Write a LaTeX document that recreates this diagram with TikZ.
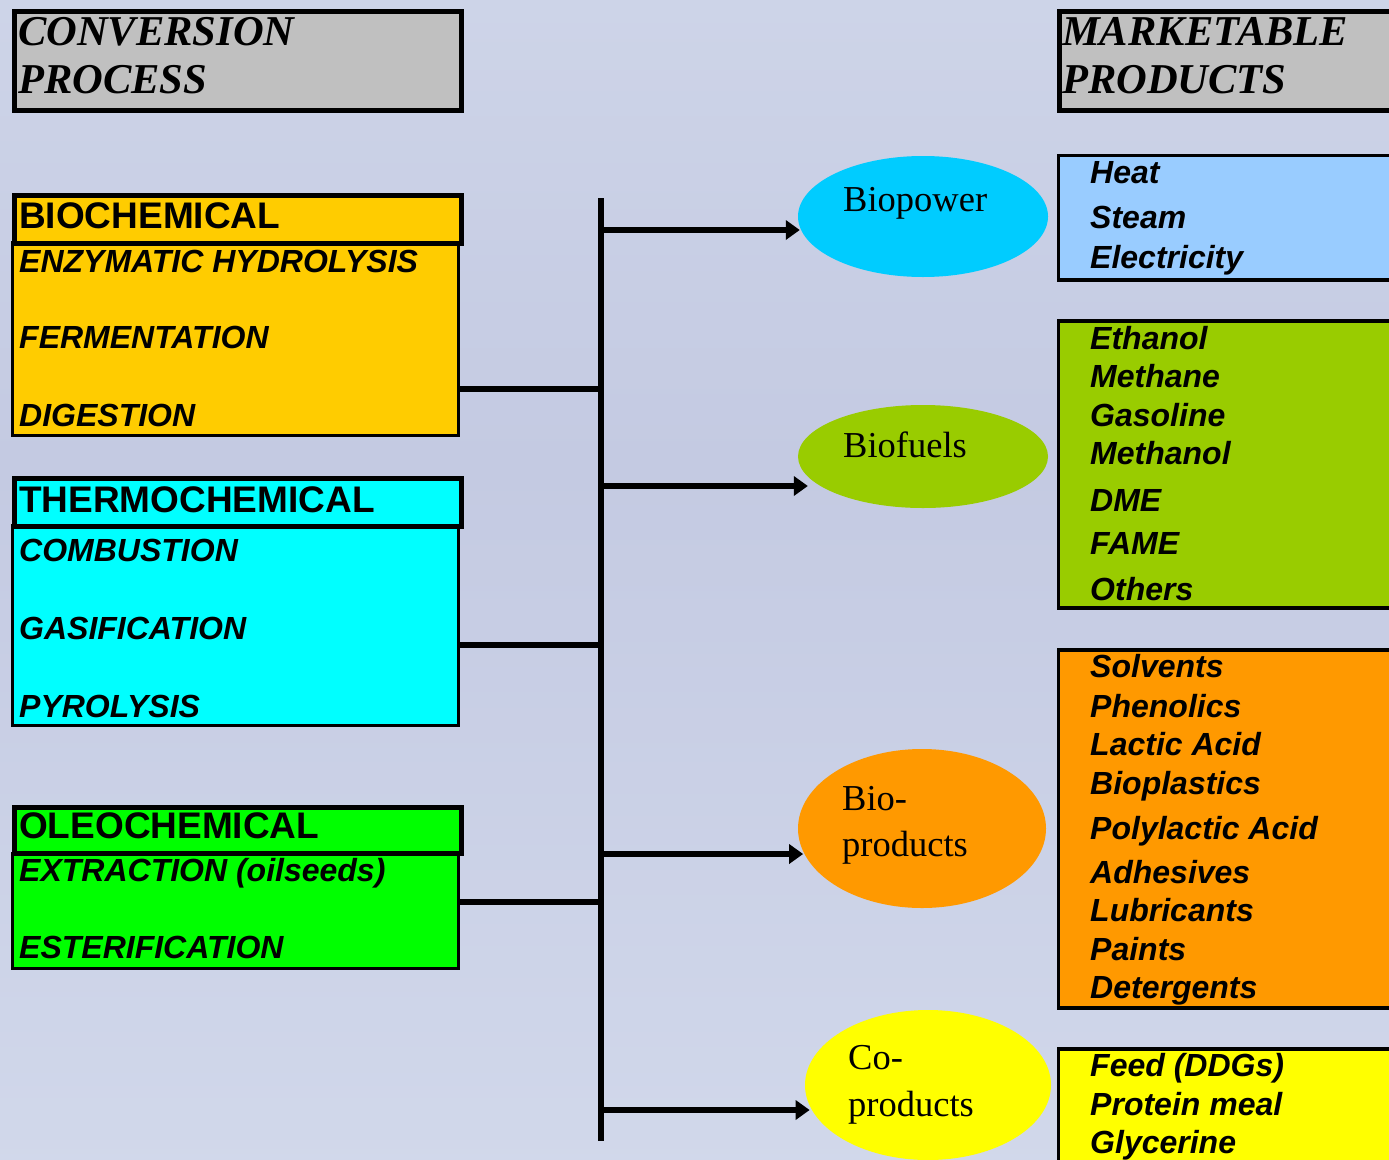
\documentclass[tikz,border=0pt]{standalone}
\usepackage{fontspec}
\setmainfont{Liberation Serif}
\setsansfont{Liberation Sans}
\usetikzlibrary{arrows.meta,shapes.geometric}
\definecolor{hdrgrey}{HTML}{C0C0C0}
\definecolor{bioyel}{HTML}{FFCC00}
\definecolor{thermcy}{HTML}{00FFFF}
\definecolor{oleogr}{HTML}{00FF00}
\definecolor{powblue}{HTML}{00CCFF}
\definecolor{fuelgr}{HTML}{99CC00}
\definecolor{prodor}{HTML}{FF9900}
\definecolor{coyel}{HTML}{FFFF00}
\definecolor{heatbl}{HTML}{99CCFF}
\definecolor{bgA}{HTML}{E9EEF6}
\definecolor{bgB}{HTML}{D3DAEC}
\definecolor{bgC}{HTML}{C4CAE2}
\definecolor{bgD}{HTML}{D2D9EB}
\definecolor{bgE}{HTML}{EEF1F6}
\pgfdeclareverticalshading{bgshade}{100bp}{color(0bp)=(bgA); color(20bp)=(bgB); color(55bp)=(bgC); color(85bp)=(bgD); color(100bp)=(bgE)}
\tikzset{
  hdrbox/.style={draw, line width=5pt, rectangle, inner sep=0pt, anchor=north west},
  bodybox/.style={draw, line width=3pt, rectangle, inner sep=0pt, anchor=north west},
  prodbox/.style={draw, line width=3.5pt, rectangle, inner sep=0pt, anchor=north west},
  blob/.style={ellipse, inner sep=0pt},
  hdrtxt/.style={anchor=base west, inner sep=0pt, font=\fontsize{42.5}{44}\selectfont\bfseries\itshape},
  cattxt/.style={anchor=base west, inner sep=0pt, font=\sffamily\bfseries\fontsize{37}{39}\selectfont},
  itemtxt/.style={anchor=base west, inner sep=0pt, font=\sffamily\bfseries\itshape\fontsize{32}{34}\selectfont},
  elltxt/.style={anchor=base west, inner sep=0pt, font=\fontsize{36.5}{40}\selectfont},
  conn/.style={line width=5.5pt},
  arr/.style={conn, -{Triangle[length=14pt,width=19pt]}}
}
\begin{document}
\begin{tikzpicture}[x=1pt,y=-1pt]
\useasboundingbox (0,0) rectangle (1389,1159);
\clip (0,0) rectangle (1389,1159);
\shade[shading=bgshade] (0,0) rectangle (1389,1159);

% headers
\node[hdrbox, fill=hdrgrey, minimum width=447pt, minimum height=99pt] (cp) at (11.5,8.5) {};
\node[hdrtxt] (cp1) at (18,45) {CONVERSION};
\node[hdrtxt] (cp2) at (18,93) {PROCESS};
\node[hdrbox, fill=hdrgrey, minimum width=360pt, minimum height=99pt] (mp) at (1056.5,8.5) {};
\node[hdrtxt] (mp1) at (1062,45) {MARKETABLE};
\node[hdrtxt] (mp2) at (1062,93) {PRODUCTS};

% left process boxes
\node[bodybox, fill=bioyel, minimum width=446pt, minimum height=192.5pt] (bb) at (11,241) {};
\node[hdrbox, fill=bioyel, minimum width=447pt, minimum height=48pt] (bh) at (11.5,192.5) {};
\node[cattxt] (bht) at (19,228) {BIOCHEMICAL};
\node[itemtxt] (b1) at (19,272) {ENZYMATIC HYDROLYSIS};
\node[itemtxt] (b2) at (19,348) {FERMENTATION};
\node[itemtxt] (b3) at (19,426) {DIGESTION};

\node[bodybox, fill=thermcy, minimum width=446pt, minimum height=199.5pt] (tb) at (11,524) {};
\node[hdrbox, fill=thermcy, minimum width=447pt, minimum height=48pt] (th) at (11.5,475.5) {};
\node[cattxt] (tht) at (19,512) {THERMOCHEMICAL};
\node[itemtxt] (t1) at (19,561) {COMBUSTION};
\node[itemtxt] (t2) at (19,639) {GASIFICATION};
\node[itemtxt] (t3) at (19,717) {PYROLYSIS};

\node[bodybox, fill=oleogr, minimum width=446pt, minimum height=115pt] (ob) at (11,852) {};
\node[hdrbox, fill=oleogr, minimum width=447pt, minimum height=46pt] (oh) at (11.5,804.5) {};
\node[cattxt] (oht) at (19,838) {OLEOCHEMICAL};
\node[itemtxt] (o1) at (19,881) {EXTRACTION (oilseeds)};
\node[itemtxt] (o2) at (19,958) {ESTERIFICATION};

% ellipses
\node[blob, fill=powblue, minimum width=250pt, minimum height=121pt] (pw) at (923,216.5) {};
\node[elltxt] (pwt) at (843,211) {Biopower};
\node[blob, fill=fuelgr, minimum width=250pt, minimum height=103pt] (fu) at (923,456.5) {};
\node[elltxt] (fut) at (843,457) {Biofuels};
\node[blob, fill=prodor, minimum width=248pt, minimum height=159pt] (pr) at (922,828.5) {};
\node[elltxt] (pr1) at (842,810) {Bio-};
\node[elltxt] (pr2) at (842,856) {products};
\node[blob, fill=coyel, minimum width=246pt, minimum height=150pt] (co) at (928,1085) {};
\node[elltxt] (co1) at (848,1069) {Co-};
\node[elltxt] (co2) at (848,1116) {products};

% product boxes
\node[prodbox, fill=heatbl, minimum width=360pt, minimum height=124.5pt] (hb) at (1056.75,153.75) {};
\node[itemtxt] (h1) at (1090,183) {Heat};
\node[itemtxt] (h2) at (1090,228) {Steam};
\node[itemtxt] (h3) at (1090,268) {Electricity};

\node[prodbox, fill=fuelgr, minimum width=360pt, minimum height=287pt] (fb) at (1056.75,319) {};
\node[itemtxt] (f1) at (1090,349) {Ethanol};
\node[itemtxt] (f2) at (1090,387) {Methane};
\node[itemtxt] (f3) at (1090,426) {Gasoline};
\node[itemtxt] (f4) at (1090,464) {Methanol};
\node[itemtxt] (f5) at (1090,511) {DME};
\node[itemtxt] (f6) at (1090,554) {FAME};
\node[itemtxt] (f7) at (1090,600) {Others};

\node[prodbox, fill=prodor, minimum width=360pt, minimum height=358pt] (pb) at (1056.75,648) {};
\node[itemtxt] (p1) at (1090,677) {Solvents};
\node[itemtxt] (p2) at (1090,717) {Phenolics};
\node[itemtxt] (p3) at (1090,755) {Lactic Acid};
\node[itemtxt] (p4) at (1090,794) {Bioplastics};
\node[itemtxt] (p5) at (1090,839) {Polylactic Acid};
\node[itemtxt] (p6) at (1090,883) {Adhesives};
\node[itemtxt] (p7) at (1090,921) {Lubricants};
\node[itemtxt] (p8) at (1090,960) {Paints};
\node[itemtxt] (p9) at (1090,998) {Detergents};

\node[prodbox, fill=coyel, minimum width=360pt, minimum height=160pt] (cb) at (1056.75,1047) {};
\node[itemtxt] (c1) at (1090,1076) {Feed (DDGs)};
\node[itemtxt] (c2) at (1090,1115) {Protein meal};
\node[itemtxt] (c3) at (1090,1153) {Glycerine};

% connectors
\coordinate (ttop) at (601,198);
\coordinate (tbot) at (601,1141);
\coordinate (jb) at (601,389);
\coordinate (jt) at (601,645);
\coordinate (jo) at (601,902);
\coordinate (a1) at (601,230);
\coordinate (a2) at (601,486);
\coordinate (a3) at (601,854);
\coordinate (a4) at (601,1110);
\draw[conn] (ttop) -- (tbot);
\draw[conn] (bb.east |- jb) -- (jb);
\draw[conn] (tb.east |- jt) -- (jt);
\draw[conn] (ob.east |- jo) -- (jo);
\draw[arr] (a1) -- (a1 -| pw.185);
\draw[arr] (a2) -- (a2 -| fu.190);
\draw[arr] (a3) -- (a3 -| pr.191);
\draw[arr] (a4) -- (a4 -| co.190);
\end{tikzpicture}
\end{document}
